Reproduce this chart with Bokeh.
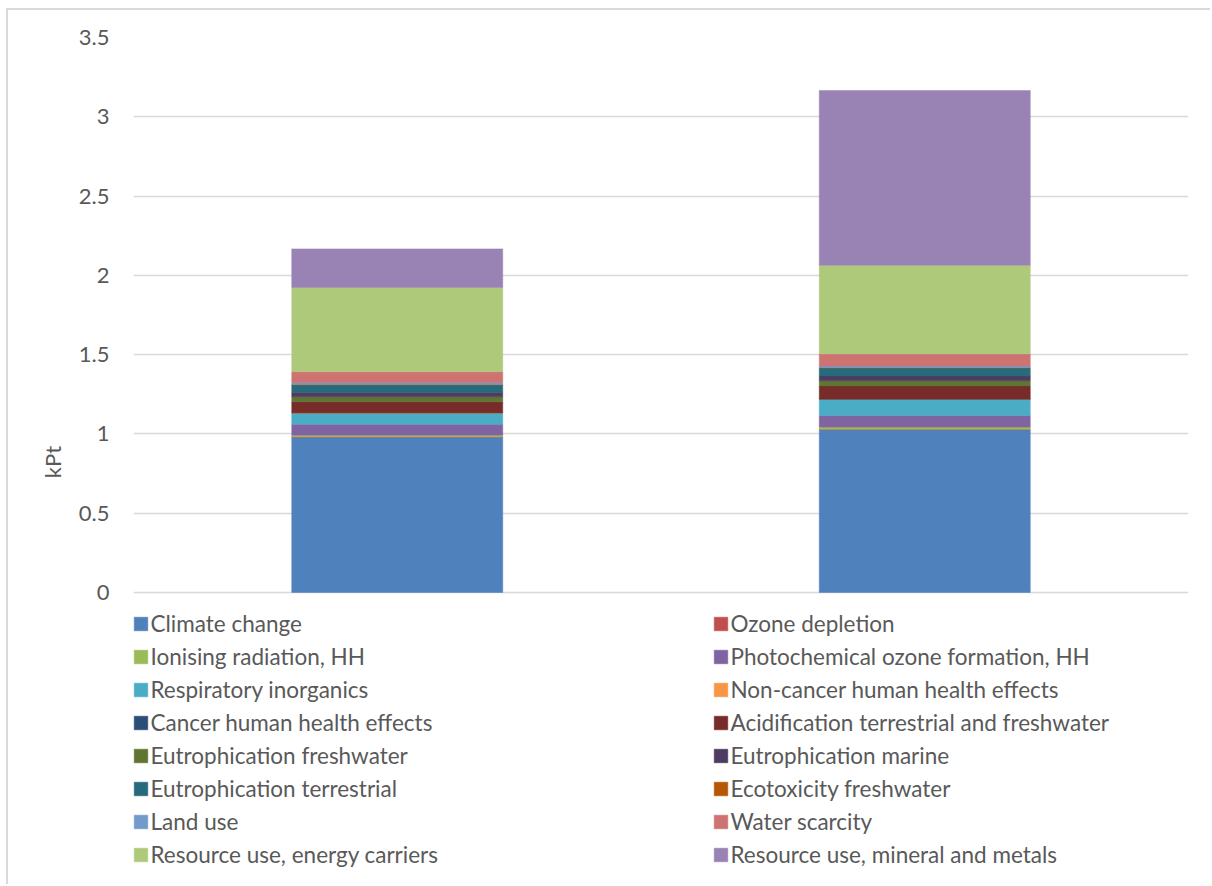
from bokeh.plotting import figure
from bokeh.models import FactorRange, Range1d, Legend, LegendItem, FixedTicker
from bokeh.embed import file_html
from bokeh.resources import INLINE

# Two product systems, normalised & weighted single-score results (kPt)
categories = ["1", "2"]

impacts = [
    "Climate change", "Ozone depletion",
    "Ionising radiation, HH", "Photochemical ozone formation, HH",
    "Respiratory inorganics", "Non-cancer human health effects",
    "Cancer human health effects", "Acidification terrestrial and freshwater",
    "Eutrophication freshwater", "Eutrophication marine",
    "Eutrophication terrestrial", "Ecotoxicity freshwater",
    "Land use", "Water scarcity",
    "Resource use, energy carriers", "Resource use, mineral and metals",
]

system_1 = [0.979, 0.003, 0.010, 0.069, 0.069, 0.002, 0.002, 0.069,
            0.031, 0.029, 0.046, 0.002, 0.012, 0.069, 0.532, 0.243]
system_2 = [1.026, 0.003, 0.014, 0.073, 0.101, 0.002, 0.002, 0.082,
            0.032, 0.031, 0.050, 0.002, 0.010, 0.077, 0.559, 1.101]

colors = [
    "#4F81BD", "#C0504D", "#9BBB59", "#8064A2",
    "#4BACC6", "#F79646", "#2C4D75", "#772C2A",
    "#5F7530", "#4D3B62", "#276A7C", "#B65708",
    "#729ACA", "#CD7371", "#AFC97A", "#9983B5",
]

y_ticks = [0, 0.5, 1, 1.5, 2, 2.5, 3, 3.5]
y_tick_labels = ["0", "0.5", "1", "1.5", "2", "2.5", "3", "3.5"]

TEXT = "#595959"
GRID = "#D9D9D9"
FONT = "Lato"

# value axis runs below zero so the legend can sit inside the frame under the bars
Y_MAX = 3.5
PX_PER_UNIT = 555 / Y_MAX
Y_MIN = -294 / PX_PER_UNIT

keys = [f"s{i}" for i in range(len(impacts))]
source = {"cat": categories}
for k, a, b in zip(keys, system_1, system_2):
    source[k] = [a, b]

p = figure(
    x_range=FactorRange(*categories),
    y_range=Range1d(Y_MIN, Y_MAX),
    width=1204, height=876,
    min_border_left=125, min_border_right=24,
    min_border_top=27, min_border_bottom=0,
    output_backend="svg", toolbar_location=None,
)
p.x_range.range_padding = 0

renderers = p.vbar_stack(
    keys, x="cat", width=0.4, source=source,
    fill_color=colors, line_color=colors, line_width=0.5,
)

p.xaxis.visible = False
p.xgrid.visible = False
p.ygrid.grid_line_color = GRID
p.ygrid.grid_line_width = 1.5

ax = p.yaxis[0]
ax.ticker = FixedTicker(ticks=y_ticks)
ax.major_label_overrides = {t: l for t, l in zip(y_ticks, y_tick_labels)}
ax.axis_line_color = None
ax.major_tick_line_color = None
ax.minor_tick_line_color = None
ax.major_label_standoff = 18
ax.major_label_text_font = FONT
ax.major_label_text_font_size = "22px"
ax.major_label_text_color = TEXT
ax.axis_label = "kPt"
ax.axis_label_text_font = FONT
ax.axis_label_text_font_size = "22px"
ax.axis_label_text_font_style = "normal"
ax.axis_label_text_color = TEXT
ax.axis_label_standoff = 10

p.outline_line_color = None

items = [LegendItem(label=name, renderers=[r]) for name, r in zip(impacts, renderers)]
legend = Legend(
    items=items,
    orientation="horizontal", ncols=2,
    location=(-1.5, 17.5),
    padding=0, margin=0, spacing=4,
    glyph_width=17, glyph_height=17,
    label_standoff=2, label_width=557, label_height=29,
    label_text_font=FONT, label_text_font_size="22.5px",
    label_text_color=TEXT,
    border_line_color=None, background_fill_alpha=0,
)
p.add_layout(legend, "center")

p.styles = {
    "margin-left": "6px", "margin-top": "8px",
    "border-left": "2px solid #D9D9D9", "border-top": "2px solid #D9D9D9",
}

open("out.html", "w").write(file_html(p, INLINE))
